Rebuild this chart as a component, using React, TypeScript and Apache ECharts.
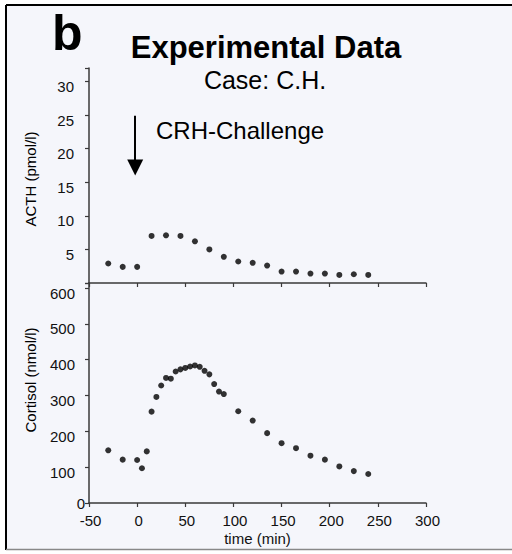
import React, { useEffect, useRef } from 'react';
import * as echarts from 'echarts';

// ---- data ----
const acthTimes = [-30, -15, 0, 15, 30, 45, 60, 75, 90, 105, 120, 135, 150, 165, 180, 195, 210, 225, 240];
const acthValues = [2.9, 2.4, 2.4, 7.0, 7.1, 7.0, 6.2, 5.0, 3.9, 3.2, 3.0, 2.6, 1.7, 1.7, 1.4, 1.4, 1.2, 1.3, 1.2];

const cortisolTimes = [-30, -15, 0, 5, 10, 15, 20, 25, 30, 35, 40, 45, 50, 55, 60, 65, 70, 75, 80, 85, 90, 105, 120, 135, 150, 165, 180, 195, 210, 225, 240];
const cortisolValues = [147, 121, 120, 97, 144, 255, 296, 328, 349, 347, 367, 373, 377, 381, 384, 380, 369, 359, 332, 311, 304, 256, 230, 195, 167, 153, 132, 121, 102, 89, 81];

const timeTicks = [-50, 0, 50, 100, 150, 200, 250, 300];
const acthTicks = [5, 10, 15, 20, 25, 30];
const cortisolTicks = [0, 100, 200, 300, 400, 500, 600];

const challengeTime = -2;
const arrowFrom = 24.9;
const arrowTo = 17.2;

const FONT = "'Liberation Sans', Arial, Helvetica, sans-serif";

export default function App() {
  const ref = useRef<HTMLDivElement>(null);

  useEffect(() => {
    if (!ref.current) return;
    const chart = echarts.init(ref.current, null, { renderer: 'svg' });

    const axisLine = { show: true, onZero: false, lineStyle: { color: '#3a3a3a', width: 1.5 } };
    const axisTick = { show: true, inside: false, length: 4, lineStyle: { color: '#3a3a3a', width: 1.2 } };

    const option: any = {
      animation: false,
      backgroundColor: '#ffffff',
      textStyle: { fontFamily: FONT },
      graphic: [
        { type: 'rect', z: -10, shape: { x: 6, y: 5, width: 506, height: 544 }, style: { fill: '#f5f6fb' } },
        { type: 'line', z: 10, shape: { x1: 6, y1: 5, x2: 512, y2: 5 }, style: { stroke: '#000', lineWidth: 2 } },
        { type: 'line', z: 10, shape: { x1: 6, y1: 5, x2: 6, y2: 550 }, style: { stroke: '#000', lineWidth: 2 } },
        { type: 'line', z: 10, shape: { x1: 6, y1: 549.5, x2: 512, y2: 549.5 }, style: { stroke: '#888', lineWidth: 1.5 } },
        {
          type: 'text', x: 52, y: 33,
          style: { text: 'b', font: `bold 50px ${FONT}`, fill: '#000', align: 'left', verticalAlign: 'middle' },
        },
        {
          type: 'text', x: 266, y: 47,
          style: { text: 'Experimental Data', font: `bold 31px ${FONT}`, fill: '#000', align: 'center', verticalAlign: 'middle' },
        },
        {
          type: 'text', x: 265, y: 80,
          style: { text: 'Case: C.H.', font: `25px ${FONT}`, fill: '#000', align: 'center', verticalAlign: 'middle' },
        },
        {
          type: 'text', x: 156, y: 130,
          style: { text: 'CRH-Challenge', font: `24px ${FONT}`, fill: '#000', align: 'left', verticalAlign: 'middle' },
        },
        {
          type: 'text', x: 30, y: 179, rotation: Math.PI / 2,
          style: { text: 'ACTH (pmol/l)', font: `15px ${FONT}`, fill: '#000', align: 'center', verticalAlign: 'middle' },
        },
        {
          type: 'text', x: 30, y: 380, rotation: Math.PI / 2,
          style: { text: 'Cortisol (nmol/l)', font: `15px ${FONT}`, fill: '#000', align: 'center', verticalAlign: 'middle' },
        },
      ],
      grid: [
        { left: 89, right: 86, top: 68, height: 215 },
        { left: 89, right: 86, top: 283, height: 220 },
      ],
      xAxis: [
        {
          gridIndex: 0, type: 'value', min: -50, max: 300, interval: 50,
          axisLine, axisTick, axisLabel: { show: false }, splitLine: { show: false },
        },
        {
          gridIndex: 1, type: 'value', min: -50, max: 300, interval: 50,
          axisLine, axisTick, splitLine: { show: false },
          axisLabel: {
            show: true, color: '#111', fontSize: 15, margin: 10, padding: [0, 0, 0, 3],
            formatter: (v: number) => (timeTicks.includes(v) ? String(v) : ''),
          },
          name: 'time (min)', nameLocation: 'middle', nameGap: 28,
          nameTextStyle: { color: '#111', fontSize: 15 },
        },
      ],
      yAxis: [
        {
          gridIndex: 0, type: 'value', min: 0, max: 32, interval: 5,
          axisLine, axisTick, splitLine: { show: false },
          axisLabel: {
            show: true, color: '#111', fontSize: 15, margin: 15,
            formatter: (v: number) => (acthTicks.includes(v) ? `{n|${v}}` : ''),
            rich: {
              n: { fontSize: 15, color: '#111', padding: [10, 0, 0, 0] },
            },
          },
        },
        {
          gridIndex: 1, type: 'value', min: 0, max: 614, interval: 100,
          axisLine, axisTick, splitLine: { show: false },
          axisLabel: {
            show: true, color: '#111', fontSize: 15, margin: 4,
            formatter: (v: number) => (cortisolTicks.includes(v) ? (v === 0 ? `{z|${v}}` : `{n|${v}}`) : ''),
            rich: {
              n: { fontSize: 15, color: '#111', padding: [10, 10, 0, 0] },
              z: { fontSize: 15, color: '#111', padding: [0, 0, 0, 0] },
            },
          },
        },
      ],
      series: [
        {
          type: 'scatter', xAxisIndex: 0, yAxisIndex: 0,
          data: acthTimes.map((t, i) => [t, acthValues[i]]),
          symbol: 'circle', symbolSize: 6,
          itemStyle: { color: '#000' },
          markLine: {
            silent: true, animation: false,
            symbol: ['none', 'triangle'], symbolSize: [16, 16],
            lineStyle: { color: '#000', width: 2, type: 'solid' },
            label: { show: false },
            emphasis: { disabled: true },
            data: [[{ coord: [challengeTime, arrowFrom] }, { coord: [challengeTime, arrowTo] }]],
          },
        },
        {
          type: 'scatter', xAxisIndex: 1, yAxisIndex: 1,
          data: cortisolTimes.map((t, i) => [t, cortisolValues[i]]),
          symbol: 'circle', symbolSize: 6,
          itemStyle: { color: '#000' },
        },
      ],
    };

    chart.setOption(option);
    return () => chart.dispose();
  }, []);

  return (
    <div
      ref={ref}
      style={{ position: 'fixed', left: 0, top: 0, width: 512, height: 554 }}
    />
  );
}
